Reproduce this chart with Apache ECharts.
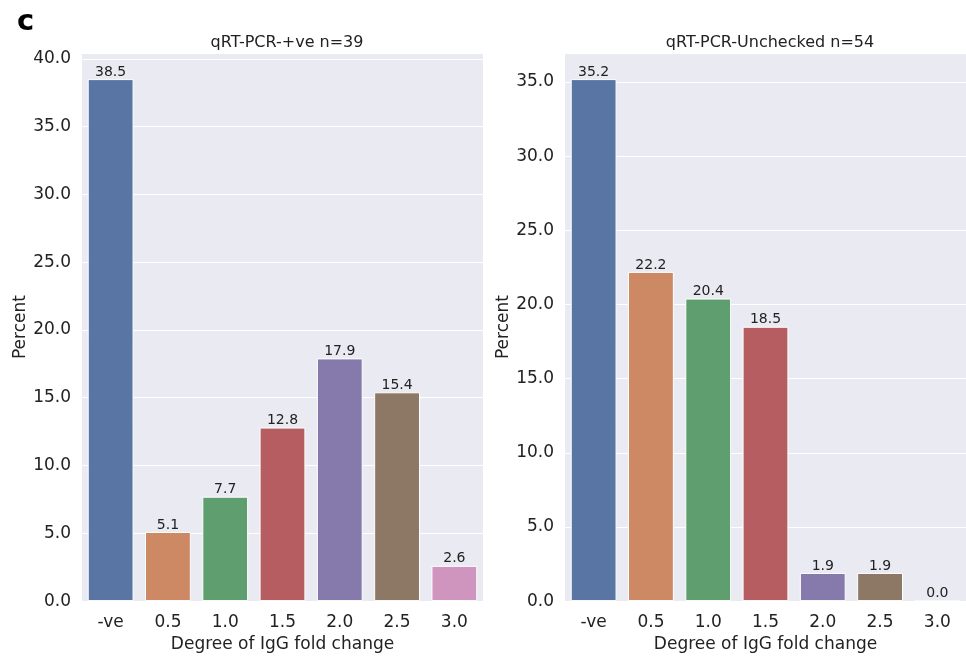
<!DOCTYPE html>
<html><head><meta charset="utf-8">
<script src="https://cdn.jsdelivr.net/npm/echarts@6/dist/echarts.min.js"></script>
<style>html,body{margin:0;padding:0;background:#fff}#c{width:966px;height:658px}</style>
</head><body><div id="c"></div>
<script>
const categories = ['-ve','0.5','1.0','1.5','2.0','2.5','3.0'];
const leftValues = [38.5, 5.1, 7.7, 12.8, 17.9, 15.4, 2.6];
const rightValues = [35.2, 22.2, 20.4, 18.5, 1.9, 1.9, 0.0];
const leftTitle = 'qRT-PCR-+ve n=39';
const rightTitle = 'qRT-PCR-Unchecked n=54';
const colors = ['#5975a4','#cc8963','#5f9e6e','#b55d60','#857aab','#8d7866','#d095bf'];

const font = 'DejaVu Sans';
const chart = echarts.init(document.getElementById('c'));
function mkX(i){return {type:'category',gridIndex:i,data:categories,
  axisLine:{show:false},axisTick:{show:false},
  axisLabel:{fontFamily:font,fontSize:17,color:'#222',margin:13},
  name:'Degree of IgG fold change',nameLocation:'middle',nameGap:31,
  nameTextStyle:{fontFamily:font,fontSize:17,color:'#222'},splitLine:{show:false}};}
function mkY(i,max,gap){return {type:'value',gridIndex:i,min:0,max:max,interval:5,
  axisLine:{show:false},axisTick:{show:false},
  axisLabel:{fontFamily:font,fontSize:17,color:'#222',margin:11,
    formatter:v=>Math.abs(v/5-Math.round(v/5))<1e-6?v.toFixed(1):''},
  splitLine:{lineStyle:{color:'#ffffff',width:1}},
  name:'Percent',nameLocation:'middle',nameGap:gap,nameRotate:90,
  nameTextStyle:{fontFamily:font,fontSize:17,color:'#222'}};}
function mkS(i,vals){return {type:'bar',xAxisIndex:i,yAxisIndex:i,barCategoryGap:'20%',
  data:vals.map((v,k)=>({value:v,itemStyle:{color:colors[k]}})),
  itemStyle:{borderColor:'#ffffff',borderWidth:1},
  label:{show:true,position:'top',distance:0,fontFamily:font,fontSize:14,color:'#222',
    formatter:p=>p.value.toFixed(1)}};}
chart.setOption({
  backgroundColor:'#ffffff',
  animation:false,
  title:[
    {text:'c',left:12,top:3,textStyle:{fontFamily:font,fontSize:29,fontWeight:'bold',color:'#000'}},
    {text:leftTitle,left:282,top:30,textAlign:'center',textStyle:{fontFamily:font,fontSize:16,fontWeight:'normal',color:'#222'}},
    {text:rightTitle,left:765,top:30,textAlign:'center',textStyle:{fontFamily:font,fontSize:16,fontWeight:'normal',color:'#222'}}
  ],
  grid:[
    {left:82,top:53,width:401,height:554,show:true,backgroundColor:'#eaeaf2',borderWidth:0},
    {left:565,top:53,width:401,height:554,show:true,backgroundColor:'#eaeaf2',borderWidth:0}
  ],
  xAxis:[mkX(0),mkX(1)],
  yAxis:[mkY(0,40.425,53),mkY(1,36.96,51)],
  series:[mkS(0,leftValues),mkS(1,rightValues)]
});
</script></body></html>
